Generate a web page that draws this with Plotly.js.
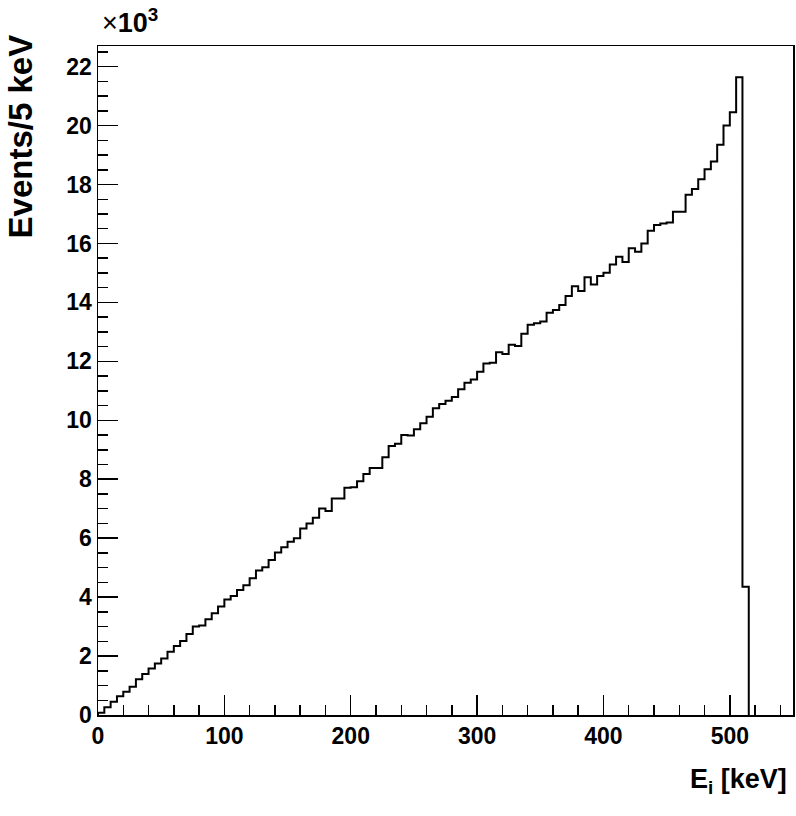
<!DOCTYPE html>
<html>
<head>
<meta charset="utf-8">
<script src="https://cdn.plot.ly/plotly-3.0.1.min.js"></script>
<style>html,body{margin:0;padding:0;background:#fff;}#chart{width:796px;height:816px;}</style>
</head>
<body>
<div id="chart"></div>
<script>
// Histogram: events per 5 keV bin, in units of 10^3
const binStart = 0;      // keV
const binWidth = 5;      // keV
const counts = [
  0.08, 0.26, 0.45, 0.64, 0.79, 0.96, 1.21, 1.39, 1.58, 1.75,
  1.92, 2.15, 2.34, 2.51, 2.75, 3.00, 3.04, 3.25, 3.45, 3.68,
  3.92, 4.04, 4.24, 4.40, 4.64, 4.90, 5.01, 5.26, 5.51, 5.69,
  5.88, 6.00, 6.33, 6.50, 6.69, 7.01, 6.92, 7.35, 7.35, 7.71,
  7.73, 7.93, 8.18, 8.38, 8.38, 8.75, 9.13, 9.20, 9.50, 9.48,
  9.70, 9.90, 10.12, 10.41, 10.55, 10.66, 10.79, 11.05, 11.27, 11.38,
  11.65, 11.93, 11.95, 12.31, 12.25, 12.56, 12.52, 12.94, 13.24, 13.29,
  13.35, 13.65, 13.74, 13.91, 14.22, 14.55, 14.39, 14.85, 14.61, 14.90,
  15.01, 15.29, 15.55, 15.37, 15.84, 15.72, 16.00, 16.43, 16.63, 16.68,
  16.71, 17.08, 17.08, 17.65, 17.85, 18.18, 18.52, 18.78, 19.35, 20.00,
  20.45, 21.64, 4.35
];
const xTickVals = [0, 100, 200, 300, 400, 500];
const xTickText = ["0", "100", "200", "300", "400", "500"];
const yTickVals = [0, 2, 4, 6, 8, 10, 12, 14, 16, 18, 20, 22];
const yTickText = ["0", "2", "4", "6", "8", "10", "12", "14", "16", "18", "20", "22"];

// build step outline from bin edges
const xs = [binStart], ys = [0];
counts.forEach((c, i) => { xs.push(binStart + i * binWidth); ys.push(c); });
const lastEdge = binStart + counts.length * binWidth;
xs.push(lastEdge); ys.push(counts[counts.length - 1]);
xs.push(lastEdge); ys.push(0);

const fontFam = "Liberation Sans, Arial, Helvetica, sans-serif";

const trace = {
  type: 'scatter', mode: 'lines',
  x: xs, y: ys,
  line: {shape: 'hv', color: '#000', width: 2},
  hoverinfo: 'skip'
};

const layout = {
  width: 796, height: 816,
  margin: {l: 98, r: 3, t: 46, b: 101},
  paper_bgcolor: '#fff', plot_bgcolor: '#fff',
  showlegend: false,
  font: {family: fontFam, color: '#000'},
  xaxis: {
    range: [0, 550], showgrid: false, zeroline: false,
    showline: true, linecolor: '#000', linewidth: 1.5, mirror: true,
    ticks: 'inside', ticklen: 20, tickwidth: 1.5, tickcolor: '#000',
    tickmode: 'array', tickvals: xTickVals, ticktext: xTickText,
    tickfont: {family: fontFam, size: 23, weight: 'bold', color: '#000'},
    minor: {dtick: 20, ticks: 'inside', ticklen: 10, tickwidth: 1.5, tickcolor: '#000', showgrid: false},
    fixedrange: true
  },
  yaxis: {
    range: [0, 22.7], showgrid: false, zeroline: false,
    showline: true, linecolor: '#000', linewidth: 1.5, mirror: true,
    ticks: 'inside', ticklen: 20, tickwidth: 1.5, tickcolor: '#000',
    tickmode: 'array', tickvals: yTickVals, ticktext: yTickText,
    tickfont: {family: fontFam, size: 23, weight: 'bold', color: '#000'},
    minor: {dtick: 0.5, ticks: 'inside', ticklen: 10, tickwidth: 1.5, tickcolor: '#000', showgrid: false},
    fixedrange: true
  },
  annotations: [
    {xref: 'paper', yref: 'paper', x: 0.994, y: -0.070, xanchor: 'right', yanchor: 'top',
     text: '<b>E<sub>i</sub> [keV]</b>', showarrow: false,
     font: {family: fontFam, size: 27, color: '#000'}},
    {xref: 'paper', yref: 'paper', x: -0.112, y: 0.865, xanchor: 'center', yanchor: 'middle',
     text: '<b>Events/5 keV</b>', textangle: -90, showarrow: false,
     font: {family: fontFam, size: 33, color: '#000'}},
    {xref: 'paper', yref: 'paper', x: 0.003, y: 1.0, xanchor: 'left', yanchor: 'bottom', yshift: 6,
     text: '×<b>10</b><sup><b>3</b></sup>', showarrow: false,
     font: {family: fontFam, size: 27, color: '#000'}}
  ]
};

Plotly.newPlot('chart', [trace], layout, {displayModeBar: false, staticPlot: true});
</script>
</body>
</html>
